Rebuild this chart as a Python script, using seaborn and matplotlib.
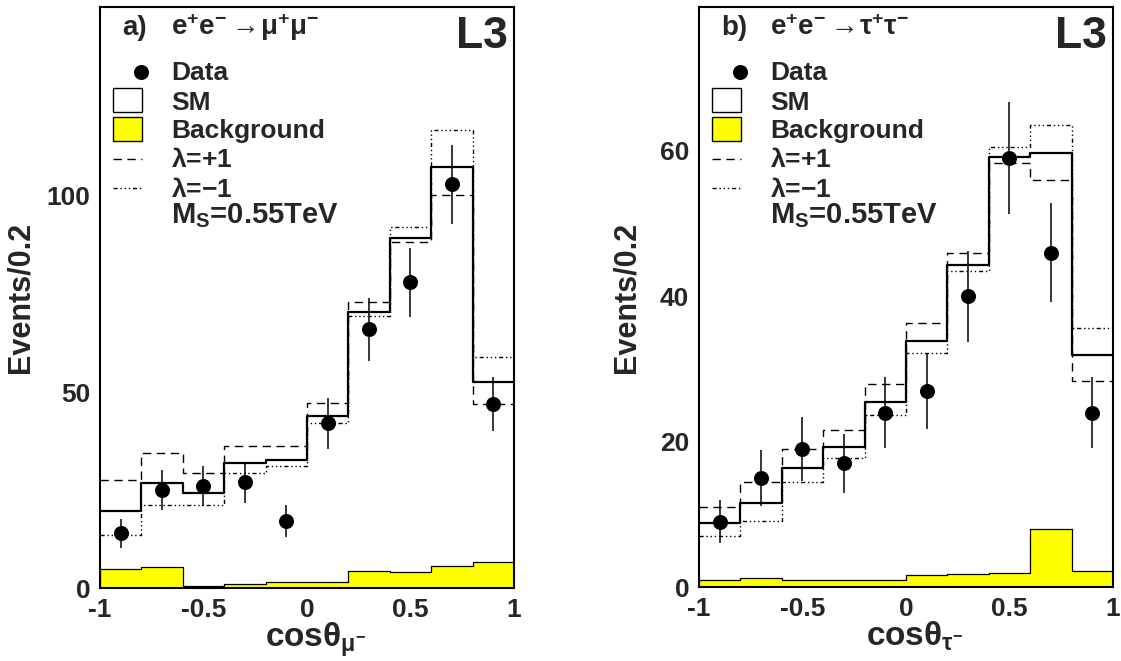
import matplotlib
matplotlib.use("Agg")
import matplotlib.pyplot as plt
from matplotlib.patches import Rectangle
from matplotlib.ticker import MultipleLocator
import seaborn as sns
import pandas as pd

# bins in cos(theta), width 0.2
bin_edges = [-1.0, -0.8, -0.6, -0.4, -0.2, 0.0, 0.2, 0.4, 0.6, 0.8, 1.0]
bin_centers = [-0.9, -0.7, -0.5, -0.3, -0.1, 0.1, 0.3, 0.5, 0.7, 0.9]

# a) e+e- -> mu+mu-
mu_data = [14, 25, 26, 27, 17, 42, 66, 78, 103, 47]
mu_err = [3.7, 5.0, 5.1, 5.2, 4.1, 6.5, 8.1, 8.8, 10.1, 6.9]
mu_sm = [19.6, 26.7, 24.3, 31.8, 32.7, 43.9, 70.3, 89.3, 107.5, 52.5]
mu_lam_plus = [27.6, 34.4, 29.4, 36.1, 36.1, 47.1, 73.0, 88.3, 100.3, 46.9]
mu_lam_minus = [13.4, 21.3, 21.3, 29.3, 31.0, 42.0, 69.5, 92.2, 116.8, 59.0]
mu_bkg = [4.8, 5.4, 0.6, 1.1, 1.6, 1.6, 4.3, 4.1, 5.7, 6.6]

# b) e+e- -> tau+tau-
tau_data = [9, 15, 19, 17, 24, 27, 40, 59, 46, 24]
tau_err = [3.0, 3.9, 4.4, 4.1, 4.9, 5.2, 6.3, 7.7, 6.8, 4.9]
tau_sm = [8.75, 11.6, 16.4, 19.3, 25.4, 33.8, 44.3, 59.1, 59.7, 31.9]
tau_lam_plus = [11.0, 14.4, 19.0, 21.6, 28.0, 36.3, 46.0, 58.3, 56.0, 28.4]
tau_lam_minus = [7.0, 9.1, 14.4, 17.7, 23.7, 32.2, 43.5, 60.5, 63.6, 35.7]
tau_bkg = [1.0, 1.2, 0.9, 1.0, 1.0, 1.65, 1.75, 1.9, 8.0, 2.15]

sns.set_style("white")
plt.rcParams['font.family'] = ['Liberation Sans', 'DejaVu Sans']
plt.rcParams['font.weight'] = 'bold'
plt.rcParams['axes.unicode_minus'] = False
plt.rcParams['mathtext.fontset'] = 'custom'
plt.rcParams['mathtext.rm'] = 'Liberation Sans'
plt.rcParams['mathtext.bf'] = 'Liberation Sans:bold'
plt.rcParams['mathtext.it'] = 'Liberation Sans:italic'
plt.rcParams['mathtext.default'] = 'rm'

DASHED = (0, (6, 4))
DASHDOT = (0, (3, 2, 1, 2, 1, 2, 1, 2))


def step_hist(ax, values, **kws):
    df = pd.DataFrame({"x": bin_centers, "w": values})
    sns.histplot(data=df, x="x", weights="w", bins=bin_edges,
                 element="step", ax=ax, **kws)


def draw_panel(ax, data, err, sm, lam_plus, lam_minus, bkg, ymax,
               major, minor, tag, process, xlabel, ylab_x):
    step_hist(ax, bkg, fill=True, color="#ffff00", alpha=1,
              edgecolor="black", linewidth=0.9)
    step_hist(ax, sm, fill=False, color="black", linewidth=1.6)
    step_hist(ax, lam_plus, fill=False, color="black", linewidth=1.0,
              linestyle=DASHED)
    step_hist(ax, lam_minus, fill=False, color="black", linewidth=1.0,
              linestyle=DASHDOT)
    ax.errorbar(bin_centers, data, yerr=err, fmt='o', color='black',
                ms=9.8, elinewidth=1.1, capsize=0, zorder=5)

    ax.set_xlim(-1, 1)
    ax.set_ylim(0, ymax)
    ax.xaxis.set_major_locator(MultipleLocator(0.5))
    ax.xaxis.set_minor_locator(MultipleLocator(0.25))
    ax.yaxis.set_major_locator(MultipleLocator(major))
    ax.yaxis.set_minor_locator(MultipleLocator(minor))
    ax.xaxis.set_major_formatter(plt.FuncFormatter(lambda v, p: f"{v:g}"))
    ax.tick_params(which='both', direction='in', top=False, right=False,
                   labelsize=19, width=1.2, pad=7)
    ax.tick_params(which='major', length=8)
    ax.tick_params(which='minor', length=4.5)
    for lab in ax.get_xticklabels() + ax.get_yticklabels():
        lab.set_fontweight('bold')
    for sp in ax.spines.values():
        sp.set_linewidth(1.5)
        sp.set_color('black')

    ax.set_ylabel("Events/0.2", fontsize=22, fontweight='bold')
    ax.yaxis.set_label_coords(ylab_x, 0.5)
    ax.set_xlabel(xlabel, fontsize=24)
    ax.xaxis.set_label_coords(0.52, -0.056)

    tr = ax.transAxes
    ax.text(0.053, 0.952, tag, transform=tr, fontsize=20, fontweight='bold',
            va='baseline')
    ax.text(0.1715, 0.952, process, transform=tr, fontsize=20,
            fontweight='bold', va='baseline')
    ax.text(0.986, 0.930, "L3", transform=tr, fontsize=32, fontweight='bold',
            ha='right', va='baseline')

    # hand-drawn legend, ROOT style
    ax.plot([0.099], [0.888], 'o', color='black', ms=9.8, transform=tr)
    ax.add_patch(Rectangle((0.031, 0.819), 0.07, 0.042, transform=tr,
                           facecolor='white', edgecolor='black', lw=1))
    ax.add_patch(Rectangle((0.031, 0.769), 0.07, 0.042, transform=tr,
                           facecolor='#ffff00', edgecolor='black', lw=1))
    ax.plot([0.031, 0.101], [0.738, 0.738], color='black', lw=1.0,
            linestyle=DASHED, transform=tr)
    ax.plot([0.031, 0.101], [0.688, 0.688], color='black', lw=1.0,
            linestyle=DASHDOT, transform=tr)
    labels = ["Data", "SM", "Background", r"$\lambda$=+1",
              "$\\lambda$=\u22121", r"M$_\mathbf{S}$=0.55TeV"]
    ys = [0.874, 0.823, 0.774, 0.725, 0.673, 0.628]
    sizes = [19, 19, 19, 19, 19, 21]
    for lab, y, s in zip(labels, ys, sizes):
        ax.text(0.1715, y, lab, transform=tr, fontsize=s, fontweight='bold',
                va='baseline')


fig = plt.figure(figsize=(11.21, 6.61), dpi=100)
ax1 = fig.add_axes([0.0892, 0.1104, 0.3693, 0.879])
ax2 = fig.add_axes([0.6235, 0.1119, 0.3693, 0.8775])

draw_panel(ax1, mu_data, mu_err, mu_sm, mu_lam_plus, mu_lam_minus, mu_bkg,
           148.2, 50, 25, "a)",
           r"e$^{+}$e$^{-}$$\rightarrow\!\mu^{+}\mu^{-}$",
           r"$\mathbf{cos}\theta_{\mu^{-}}$", -0.155)
draw_panel(ax2, tau_data, tau_err, tau_sm, tau_lam_plus, tau_lam_minus, tau_bkg,
           79.8, 20, 5, "b)",
           r"e$^{+}$e$^{-}$$\rightarrow\!\tau^{+}\tau^{-}$",
           r"$\mathbf{cos}\theta_{\tau^{-}}$", -0.138)

fig.savefig("out.png", dpi=100)
